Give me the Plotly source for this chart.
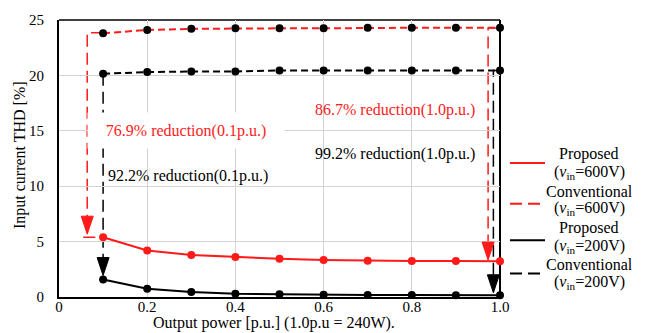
import plotly.graph_objects as go

# ---- data ----
power_pu = [0.1, 0.2, 0.3, 0.4, 0.5, 0.6, 0.7, 0.8, 0.9, 1.0]
prop_600 = [5.4, 4.2, 3.8, 3.6, 3.45, 3.35, 3.28, 3.25, 3.25, 3.22]
conv_600 = [23.8, 24.1, 24.2, 24.25, 24.25, 24.25, 24.3, 24.3, 24.3, 24.3]
prop_200 = [1.57, 0.75, 0.45, 0.3, 0.25, 0.2, 0.18, 0.17, 0.16, 0.16]
conv_200 = [20.15, 20.3, 20.35, 20.35, 20.45, 20.45, 20.45, 20.45, 20.45, 20.45]

x_ticks = [0, 0.2, 0.4, 0.6, 0.8, 1.0]
x_ticktext = ["0", "0.2", "0.4", "0.6", "0.8", "1.0"]
y_ticks = [0, 5, 10, 15, 20, 25]

legend_names = ["Proposed", "Conventional", "Proposed", "Conventional"]
legend_sub = ["(<i>v</i><sub>in</sub>=600V)", "(<i>v</i><sub>in</sub>=600V)",
              "(<i>v</i><sub>in</sub>=200V)", "(<i>v</i><sub>in</sub>=200V)"]

RED = "#ff1a1a"
BLACK = "#000000"
FONT = "Liberation Serif, Times New Roman, serif"

W, H = 649, 333
L, R, T, B = 59, 149, 14, 36
PW, PH = W - L - R, H - T - B


def px2paper_x(px):
    return (px - L) / PW


def px2paper_y(py):
    return (H - B - py) / PH


fig = go.Figure()

series = [
    (prop_600, RED, "solid", RED),
    (conv_600, RED, "7px,4px", BLACK),
    (prop_200, BLACK, "solid", BLACK),
    (conv_200, BLACK, "7px,4px", BLACK),
]
for ys, lc, dash, mc in series:
    fig.add_trace(go.Scatter(
        x=power_pu, y=ys, mode="lines+markers",
        line=dict(color=lc, width=2, dash=dash),
        marker=dict(color=mc, size=8),
        cliponaxis=False, showlegend=False,
    ))

shapes = []
# reduction guide lines (dashed)
guides = [
    ("M 0.1,23.85 L 0.064,23.85 L 0.064,6.5", RED),
    ("M 0.055,5.4 L 0.1,5.4", RED),
    ("M 0.1,20.15 L 0.1,2.8", BLACK),
    ("M 0.995,24.27 L 0.973,24.27 L 0.973,4.3", RED),
    ("M 0.998,20.45 L 0.985,20.45 L 0.985,1.3", BLACK),
]
for path, col in guides:
    shapes.append(dict(type="path", path=path, xref="x", yref="y",
                       line=dict(color=col, width=1.5, dash="12px,6px"),
                       layer="below"))
# arrowheads
heads = [(0.064, 5.67, RED), (0.1, 1.94, BLACK), (0.973, 3.33, RED), (0.985, 0.38, BLACK)]
for hx, hy, col in heads:
    shapes.append(dict(type="path", xref="x", yref="y",
                       xsizemode="pixel", ysizemode="pixel",
                       xanchor=hx, yanchor=hy,
                       path="M -6,18 L 6,18 L 0,0 Z",
                       fillcolor=col, line=dict(color=col, width=1)))
# top and right frame
shapes.append(dict(type="line", xref="paper", yref="paper", x0=0, x1=1, y0=1, y1=1,
                   line=dict(color="black", width=1.3), layer="below"))
shapes.append(dict(type="line", xref="paper", yref="paper", x0=1, x1=1, y0=0, y1=1,
                   line=dict(color="black", width=2), layer="below"))

# manual legend
leg_line_y = [160, 201.7, 239, 273]
leg_text_y = [(151, 170), (189, 207), (226, 245), (264, 282)]
leg_cols = [RED, RED, BLACK, BLACK]
leg_dash = ["solid", "12px,6px", "solid", "12px,6px"]
annotations = []
for i in range(4):
    shapes.append(dict(type="line", xref="paper", yref="paper",
                       x0=px2paper_x(510), x1=px2paper_x(545),
                       y0=px2paper_y(leg_line_y[i]), y1=px2paper_y(leg_line_y[i]),
                       line=dict(color=leg_cols[i], width=2, dash=leg_dash[i])))
    for txt, ty in zip([legend_names[i], legend_sub[i]], leg_text_y[i]):
        annotations.append(dict(text=txt, xref="paper", yref="paper",
                                x=px2paper_x(589), y=px2paper_y(ty),
                                xanchor="center", yanchor="middle", showarrow=False,
                                font=dict(family=FONT, size=16, color="black")))

# reduction labels
annotations += [
    dict(text="76.9% reduction(0.1p.u.)", x=0.287, y=15.03, xref="x", yref="y",
         showarrow=False, font=dict(family=FONT, size=16, color=RED),
         bgcolor="white", width=194, height=33, xanchor="center", yanchor="middle"),
    dict(text="92.2% reduction(0.1p.u.)", x=0.1066, y=10.92, xref="x", yref="y",
         showarrow=False, font=dict(family=FONT, size=16, color="black"),
         xanchor="left", yanchor="middle"),
    dict(text="86.7% reduction(1.0p.u.)", x=0.7608, y=16.92, xref="x", yref="y",
         showarrow=False, font=dict(family=FONT, size=16, color=RED),
         xanchor="center", yanchor="middle"),
    dict(text="99.2% reduction(1.0p.u.)", x=0.7608, y=12.91, xref="x", yref="y",
         showarrow=False, font=dict(family=FONT, size=16, color="black"),
         xanchor="center", yanchor="middle"),
]
# axis titles
annotations += [
    dict(text="Output power [p.u.] (1.0p.u = 240W).", xref="paper", yref="paper",
         x=px2paper_x(273.5), y=px2paper_y(324), xanchor="center", yanchor="middle",
         showarrow=False, font=dict(family=FONT, size=16, color="black")),
    dict(text="Input current THD [%]", xref="paper", yref="paper",
         x=px2paper_x(20), y=px2paper_y(152), xanchor="center", yanchor="middle",
         textangle=-90, showarrow=False, font=dict(family=FONT, size=16, color="black")),
]

fig.update_layout(
    width=W, height=H,
    margin=dict(l=L, r=R, t=T, b=B),
    paper_bgcolor="white", plot_bgcolor="white",
    font=dict(family=FONT, size=15, color="black"),
    shapes=shapes, annotations=annotations,
    showlegend=False,
)
fig.update_xaxes(range=[0, 1], tickvals=x_ticks, ticktext=x_ticktext,
                 showgrid=True, gridcolor="#d3d3d3", gridwidth=1,
                 showline=True, linecolor="black", linewidth=2,
                 ticks="", zeroline=False, ticklabelstandoff=-5,
                 tickfont=dict(family=FONT, size=15, color="black"))
fig.update_yaxes(range=[0, 25], tickvals=y_ticks,
                 showgrid=True, gridcolor="#d3d3d3", gridwidth=1,
                 showline=True, linecolor="black", linewidth=2,
                 ticks="", zeroline=False, ticklabelstandoff=10,
                 tickfont=dict(family=FONT, size=15, color="black"))

fig.write_html("out.html", config={"displayModeBar": False},
               post_script="document.body.style.margin='0';")
